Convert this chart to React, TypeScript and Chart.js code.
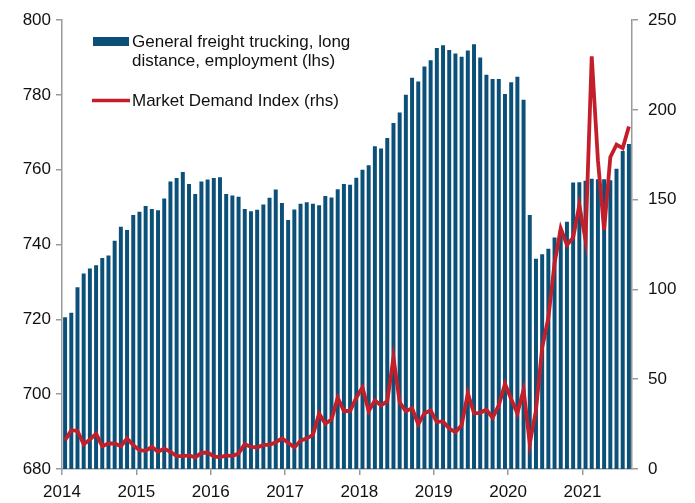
import React, { useEffect, useRef } from 'react';
import { Chart, registerables } from 'chart.js';

Chart.register(...registerables);

// ---- Data (monthly, Jan 2014 – Aug 2021) ----
const yearLabels = ['2014', '2015', '2016', '2017', '2018', '2019', '2020', '2021'];

// General freight trucking, long distance, employment (thousands, lhs)
const employment: number[] = [
  // 2014
  720.6, 721.8, 728.6, 732.3, 733.6, 734.5, 736.4, 737.1, 741.0, 744.8, 743.9, 747.9,
  // 2015
  748.8, 750.3, 749.5, 749.2, 752.3, 756.9, 757.8, 759.4, 756.2, 753.5, 756.9, 757.4,
  // 2016
  757.8, 758.0, 753.5, 753.1, 752.8, 749.5, 748.9, 749.3, 750.7, 752.5, 754.7, 751.1,
  // 2017
  746.6, 749.4, 750.9, 751.3, 750.9, 750.5, 753.0, 752.6, 754.8, 756.2, 756.0, 757.9,
  // 2018
  760.0, 761.2, 766.3, 765.7, 768.5, 772.5, 775.3, 780.1, 784.6, 783.6, 787.6, 789.3,
  // 2019
  792.6, 793.3, 792.0, 791.1, 790.2, 791.9, 793.6, 790.0, 785.4, 784.3, 784.3, 780.3,
  // 2020
  783.4, 784.9, 778.7, 747.9, 736.2, 737.4, 738.9, 741.9, 744.0, 746.1, 756.6, 756.7,
  // 2021
  757.1, 757.6, 757.5, 757.5, 757.2, 760.3, 765.0, 766.9,
];

// Market Demand Index (rhs)
const demandIndex: number[] = [
  // 2014
  16.0, 21.6, 21.2, 13.8, 16.4, 19.7, 12.7, 14.2, 14.2, 12.7, 17.0, 13.3,
  // 2015
  10.5, 10.1, 12.3, 9.6, 11.4, 9.6, 7.2, 7.2, 7.6, 6.5, 9.0, 9.2,
  // 2016
  7.0, 6.5, 7.6, 7.2, 8.7, 13.8, 12.3, 12.0, 13.4, 13.4, 14.9, 17.1,
  // 2017
  14.6, 12.0, 15.7, 17.1, 19.0, 30.8, 25.3, 27.5, 39.7, 32.3, 32.3, 39.7,
  // 2018
  45.5, 32.2, 38.2, 35.4, 37.8, 62.1, 37.2, 32.1, 33.9, 24.9, 31.1, 32.6,
  // 2019
  26.2, 26.5, 22.5, 20.6, 24.3, 42.2, 31.1, 31.3, 33.0, 28.6, 35.4, 47.5,
  // 2020
  39.0, 31.0, 44.1, 14.2, 32.6, 67.6, 84.2, 114.7, 134.0, 124.8, 128.9, 147.0,
  // 2021
  127.6, 229.9, 172.0, 133.1, 173.7, 180.7, 178.7, 190.8,
];

const barLegendLines = ['General freight trucking, long', 'distance, employment (lhs)'];
const lineLegendText = 'Market Demand Index (rhs)';

const BAR_COLOR = '#0B5079';
const LINE_COLOR = '#C21F2B';
const AXIS_COLOR = '#9A9A9A';
const TEXT_COLOR = '#111111';
const FONT_FAMILY = '"Liberation Sans", Arial, Helvetica, sans-serif';

const legendPlugin = {
  id: 'customLegend',
  afterDraw(chart: any) {
    const ctx = chart.ctx as CanvasRenderingContext2D;
    ctx.save();
    // bar swatch
    ctx.fillStyle = BAR_COLOR;
    ctx.fillRect(93, 37, 36, 9);
    // line swatch
    ctx.strokeStyle = LINE_COLOR;
    ctx.lineWidth = 3.5;
    ctx.beginPath();
    ctx.moveTo(92, 100.5);
    ctx.lineTo(130, 100.5);
    ctx.stroke();
    // texts
    ctx.fillStyle = TEXT_COLOR;
    ctx.font = `17px ${FONT_FAMILY}`;
    ctx.textAlign = 'left';
    ctx.textBaseline = 'alphabetic';
    ctx.fillText(barLegendLines[0], 132, 47);
    ctx.fillText(barLegendLines[1], 132, 66);
    ctx.fillText(lineLegendText, 132, 106);
    ctx.restore();
  },
};

export default function App() {
  const canvasRef = useRef<HTMLCanvasElement | null>(null);

  useEffect(() => {
    document.body.style.margin = '0';
    const canvas = canvasRef.current;
    if (!canvas) return;

    const barPoints = employment.map((v, i) => ({ x: i + 0.5, y: v }));
    const linePoints = demandIndex.map((v, i) => ({ x: i + 0.5, y: v }));
    const nMonths = employment.length;

    const tickFont = { family: FONT_FAMILY, size: 17 };

    const chart = new Chart(canvas, {
      type: 'bar',
      data: {
        datasets: [
          {
            type: 'line',
            label: lineLegendText,
            data: linePoints,
            yAxisID: 'y1',
            borderColor: LINE_COLOR,
            borderWidth: 3.8,
            pointRadius: 0,
            tension: 0,
            fill: false,
            order: 0,
          } as any,
          {
            type: 'bar',
            label: barLegendLines.join(' '),
            data: barPoints,
            yAxisID: 'y',
            backgroundColor: BAR_COLOR,
            borderWidth: 0,
            categoryPercentage: 1,
            barPercentage: 0.64,
            order: 1,
          } as any,
        ],
      },
      options: {
        responsive: false,
        animation: false,
        devicePixelRatio: 1,
        layout: { padding: { top: 17, left: 0, right: 0, bottom: 0 } },
        plugins: {
          legend: { display: false },
          tooltip: { enabled: false },
        },
        scales: {
          x: {
            type: 'linear',
            min: 0,
            max: nMonths,
            offset: false,
            afterBuildTicks: (scale: any) => {
              scale.ticks = scale.ticks.filter((t: any) => t.value % 12 === 0);
            },
            afterFit: (scale: any) => {
              scale.height = 34;
            },
            ticks: {
              stepSize: 12,
              autoSkip: false,
              maxRotation: 0,
              padding: 7,
              color: TEXT_COLOR,
              font: tickFont,
              callback: (value: any) => yearLabels[Math.round(Number(value) / 12)] ?? '',
            },
            grid: {
              offset: false,
              drawOnChartArea: false,
              drawTicks: true,
              tickLength: 6,
              color: AXIS_COLOR,
              lineWidth: 1.5,
            },
            border: { display: true, color: AXIS_COLOR, width: 1.5 },
          },
          y: {
            type: 'linear',
            position: 'left',
            min: 680,
            max: 800,
            afterFit: (scale: any) => {
              scale.width = 62;
            },
            ticks: {
              stepSize: 20,
              padding: 5,
              color: TEXT_COLOR,
              font: tickFont,
            },
            grid: {
              drawOnChartArea: false,
              drawTicks: true,
              tickLength: 6,
              color: AXIS_COLOR,
              lineWidth: 1.5,
            },
            border: { display: true, color: AXIS_COLOR, width: 1.5 },
          },
          y1: {
            type: 'linear',
            position: 'right',
            min: 0,
            max: 250,
            afterFit: (scale: any) => {
              scale.width = 63;
            },
            ticks: {
              stepSize: 50,
              padding: 10,
              color: TEXT_COLOR,
              font: tickFont,
            },
            grid: {
              drawOnChartArea: false,
              drawTicks: true,
              tickLength: 6,
              color: AXIS_COLOR,
              lineWidth: 1.5,
            },
            border: { display: true, color: AXIS_COLOR, width: 1.5 },
          },
        },
      } as any,
      plugins: [legendPlugin],
    });

    return () => {
      chart.destroy();
    };
  }, []);

  return (
    <div style={{ position: 'absolute', left: 0, top: 0, width: 695, height: 503 }}>
      <canvas ref={canvasRef} width={695} height={503} style={{ display: 'block' }} />
    </div>
  );
}
